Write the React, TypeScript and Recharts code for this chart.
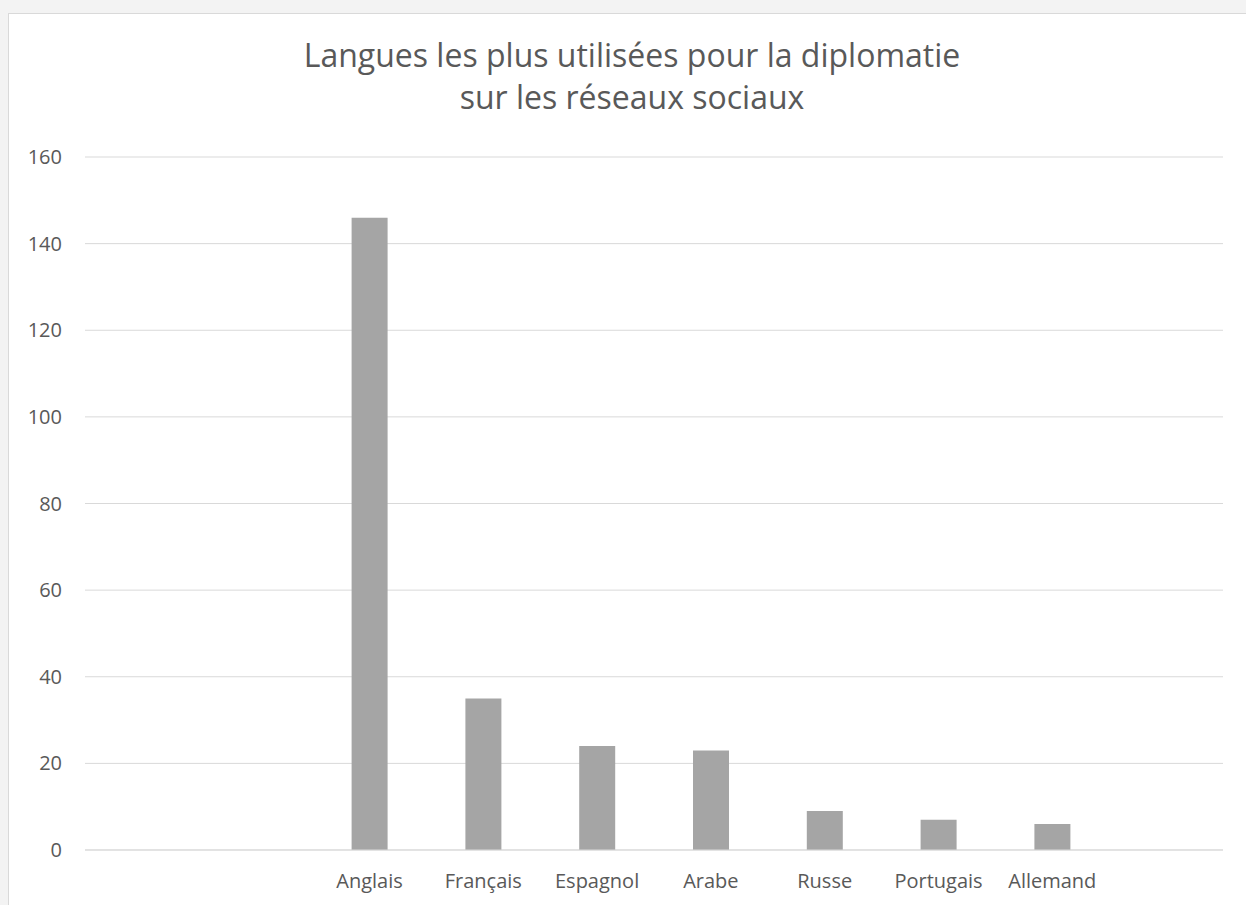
import React from "react";
import { BarChart, Bar, XAxis, YAxis, CartesianGrid } from "recharts";

const categories = ["", "", "Anglais", "Français", "Espagnol", "Arabe", "Russe", "Portugais", "Allemand", ""];
const values: (number | null)[] = [null, null, 146, 35, 24, 23, 9, 7, 6, null];
const yTicks = [0, 20, 40, 60, 80, 100, 120, 140, 160];
const titleLines = ["Langues les plus utilisées pour la diplomatie", "sur les réseaux sociaux"];

const data = categories.map((name, i) => ({ name, value: values[i] }));

const FONT = "'Open Sans', sans-serif";
const TEXT = "#595959";

export default function App() {
  return (
    <div style={{ position: "fixed", left: 0, top: 0, width: 1246, height: 905, background: "#f3f3f3", overflow: "hidden" }}>
      <div style={{ position: "absolute", left: 8, top: 13, width: 1270, height: 920, background: "#ffffff", border: "1px solid #d9d9d9", boxSizing: "border-box" }} />
      <div style={{ position: "absolute", left: 0, top: 34, width: 1264, textAlign: "center", fontFamily: FONT, fontSize: 32, lineHeight: "42px", color: TEXT }}>
        {titleLines.map((t, i) => (
          <div key={i}>{t}</div>
        ))}
      </div>
      <div style={{ position: "absolute", left: 8, top: 13 }}>
        <BarChart width={1238} height={892} data={data} margin={{ top: 144, right: 23, bottom: 0, left: 0 }} barCategoryGap={0}>
          <CartesianGrid vertical={false} stroke="#d9d9d9" strokeWidth={1} />
          <XAxis
            dataKey="name"
            height={55}
            tickLine={false}
            tickSize={0}
            tickMargin={24}
            axisLine={{ stroke: "#d9d9d9", strokeWidth: 1 }}
            tick={{ fontFamily: FONT, fontSize: 20, fill: TEXT }}
            interval={0}
          />
          <YAxis
            width={77}
            domain={[0, 160]}
            ticks={yTicks}
            tickLine={false}
            axisLine={false}
            tickSize={0}
            tickMargin={23}
            tick={{ fontFamily: FONT, fontSize: 20, fill: TEXT }}
          />
          <Bar dataKey="value" fill="#a5a5a5" barSize={36} isAnimationActive={false} />
        </BarChart>
      </div>
    </div>
  );
}
